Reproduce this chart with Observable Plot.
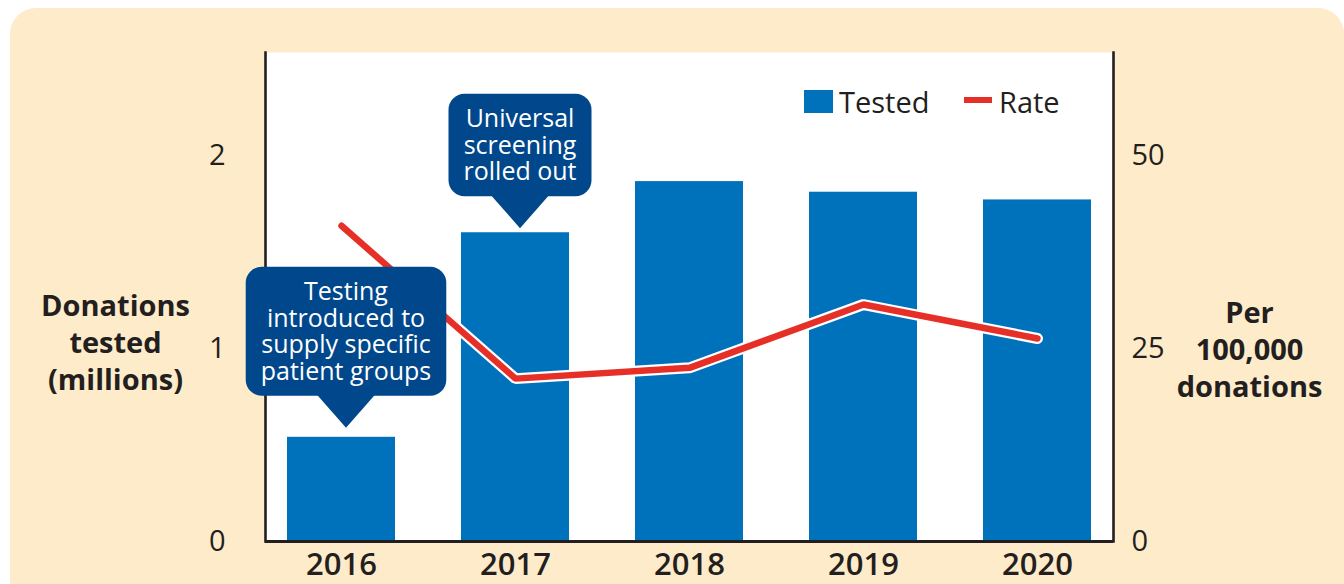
<!DOCTYPE html>
<html>
<head>
<meta charset="utf-8">
<script src="https://cdn.jsdelivr.net/npm/d3@7"></script>
<script src="https://cdn.jsdelivr.net/npm/@observablehq/plot@0.6"></script>
<style>
  html, body { margin: 0; padding: 0; background: #ffffff; }
  #wrap { position: relative; width: 1344px; height: 584px; overflow: hidden; font-family: "Open Sans", sans-serif; }
  #panel { position: absolute; left: 10px; top: 8px; width: 1334px; height: 640px; background: #feebc9; border-radius: 26px; }
  #chart { position: absolute; left: 0; top: 0; }
</style>
</head>
<body>
<div id="wrap"><div id="panel"></div><div id="chart"></div></div>
<script>
// ---- data ----
const years = ["2016", "2017", "2018", "2019", "2020"];
const tested = [0.54, 1.60, 1.865, 1.81, 1.77];        // millions of donations tested
const rate = [40.9, 21.1, 22.5, 30.7, 26.3];            // per 100,000 donations
const leftTicks = [0, 1, 2];
const rightTicks = [0, 25, 50];
const legendLabels = ["Tested", "Rate"];
const leftTitle = ["Donations", "tested", "(millions)"];
const rightTitle = ["Per", "100,000", "donations"];
const calloutYears = ["2016", "2017"];
const calloutTexts = [
  ["Testing", "introduced to", "supply specific", "patient groups"],
  ["Universal", "screening", "rolled out"]
];

// ---- styles ----
const rateFactor = rightTicks[1] / leftTicks[1]; // 25 per 100,000 aligns with 1 million
const BLUE = "#0072bc", RED = "#e63027", NAVY = "#00478b", INK = "#231f20";
const FONT = "'Open Sans', sans-serif";
const cs = {fontSize: 25, lineH: 26.5, padX: 15, padY: 11.5, r: 16, tipW: 58, tipH: 32, gap: [9, 4], dx: 5, fill: NAVY};

const data = years.map((year, i) => ({year, tested: tested[i], rate: rate[i]}));

function calloutMark(index, scales) {
  const {x, y} = scales;
  const bw = x.bandwidth ? x.bandwidth() : 0;
  const g = d3.create("svg:g");
  const ctx = document.createElement("canvas").getContext("2d");
  ctx.font = `${cs.fontSize}px 'Open Sans'`;
  calloutYears.forEach((yr, i) => {
    const lines = calloutTexts[i];
    const val = tested[years.indexOf(yr)];
    const cx = x(yr) + bw / 2 + cs.dx;
    const tipY = y(val) - cs.gap[i];
    const baseY = tipY - cs.tipH;
    const w = d3.max(lines, l => ctx.measureText(l).width) + 2 * cs.padX;
    const h = lines.length * cs.lineH + 2 * cs.padY;
    const top = baseY - h;
    g.append("rect").attr("x", cx - w / 2).attr("y", top).attr("width", w).attr("height", h)
      .attr("rx", cs.r).attr("fill", cs.fill);
    g.append("path").attr("d", `M${cx - cs.tipW / 2},${baseY - 1}L${cx},${tipY}L${cx + cs.tipW / 2},${baseY - 1}Z`)
      .attr("fill", cs.fill);
    const t = g.append("text").attr("fill", "white").attr("font-family", FONT)
      .attr("font-size", cs.fontSize).attr("text-anchor", "middle");
    lines.forEach((l, j) => {
      t.append("tspan").attr("x", cx).attr("y", top + cs.padY + (j + 0.5) * cs.lineH)
        .attr("dy", "0.357em").text(l);
    });
  });
  return g.node();
}

const svg = Plot.plot({
  width: 1344,
  height: 584,
  marginLeft: 265,
  marginRight: 231,
  marginTop: 52,
  marginBottom: 43,
  style: {background: "transparent", fontFamily: FONT, color: INK},
  x: {type: "band", domain: years, paddingInner: 0.38, paddingOuter: 0.12, label: null},
  y: {domain: [0, 2.534], label: null},
  marks: [
    Plot.frame({fill: "white", stroke: "none"}),
    Plot.barY(data, {x: "year", y: "tested", fill: BLUE}),
    Plot.lineY(data, {x: "year", y: d => d.rate / rateFactor, stroke: "white", strokeWidth: 11, strokeLinejoin: "miter"}),
    Plot.lineY(data, {x: "year", y: d => d.rate / rateFactor, stroke: RED, strokeWidth: 6.5, strokeLinejoin: "miter"}),
    Plot.ruleY([0], {stroke: INK, strokeWidth: 3}),
    Plot.frame({anchor: "left", stroke: INK, strokeWidth: 2.6}),
    Plot.frame({anchor: "right", stroke: INK, strokeWidth: 2.6}),
    Plot.axisY({anchor: "left", ticks: leftTicks, tickFormat: d => String(d), tickSize: 0, tickPadding: 40, fontSize: 29, fill: INK, label: null}),
    Plot.axisY({anchor: "right", ticks: rightTicks.map(v => v / rateFactor),
      tickFormat: d => String(rightTicks[leftTicks.indexOf(Math.round(d))]),
      tickSize: 0, tickPadding: 18, fontSize: 29, fill: INK, label: null}),
    Plot.axisX({tickSize: 0, tickPadding: 11, fontSize: 31, fontWeight: 600, fill: INK, label: null}),
    calloutMark,
    Plot.text([leftTitle.join("\n")], {frameAnchor: "left", dx: -150, dy: 44, lineHeight: 1.27,
      fontSize: 29, fontWeight: "bold", textAnchor: "middle", fill: INK}),
    Plot.text([rightTitle.join("\n")], {frameAnchor: "right", dx: 136, dy: 51, lineHeight: 1.27,
      fontSize: 29, fontWeight: "bold", textAnchor: "middle", fill: INK})
  ]
});

// ---- legend (inside plot area, top right) ----
const lg = d3.select(svg).append("g").attr("font-family", FONT).attr("font-size", 29)
  .attr("fill", INK).attr("text-anchor", "start");
lg.append("rect").attr("x", 804).attr("y", 90).attr("width", 29).attr("height", 23).attr("fill", BLUE);
lg.append("text").attr("x", 839).attr("y", 113).attr("text-anchor", "start").text(legendLabels[0]);
lg.append("rect").attr("x", 964).attr("y", 97).attr("width", 28).attr("height", 6).attr("fill", RED);
lg.append("text").attr("x", 999).attr("y", 113).attr("text-anchor", "start").text(legendLabels[1]);

document.getElementById("chart").appendChild(svg);
</script>
</body>
</html>
